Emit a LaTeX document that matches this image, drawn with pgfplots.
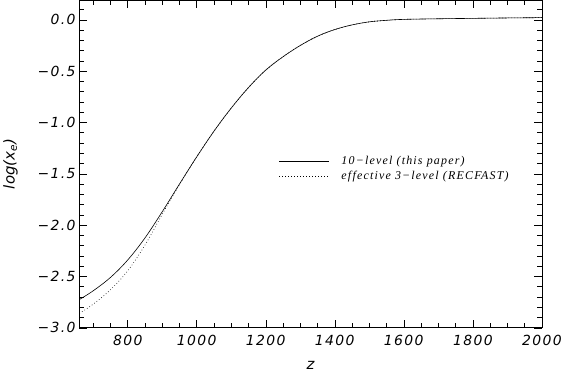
\documentclass[border=0pt]{standalone}
\usepackage{fontspec}
\setmainfont{DejaVu Sans}
\newfontfamily\tickfont[LetterSpace=10]{DejaVu Sans}
\newfontfamily\legfont[LetterSpace=10]{Liberation Serif}
\usepackage{pgfplots}
\pgfplotsset{compat=1.18}

% log of the ionisation fraction against redshift
\pgfplotstableread{
z     lx
660  -2.725
700  -2.640
750  -2.510
800  -2.340
850  -2.125
900  -1.870
950  -1.600
1000 -1.335
1050 -1.085
1100 -0.860
1150 -0.660
1200 -0.490
1250 -0.360
1300 -0.250
1350 -0.160
1400 -0.095
1450 -0.050
1500 -0.020
1550 -0.005
1600  0.004
1700  0.010
1800  0.014
1900  0.018
2000  0.021
}\tenlevel

\pgfplotstableread{
z     lx
660  -2.860
700  -2.770
750  -2.630
800  -2.445
850  -2.195
900  -1.895
950  -1.605
1000 -1.335
1050 -1.085
1100 -0.860
1150 -0.660
1200 -0.490
1250 -0.360
1300 -0.250
1350 -0.160
1400 -0.095
1450 -0.050
1500 -0.020
1550 -0.005
1600  0.004
1700  0.010
1800  0.014
1900  0.018
2000  0.021
}\recfast

\begin{document}
\begin{tikzpicture}
\begin{axis}[
  scale only axis,
  width=465pt,
  height=329pt,
  xmin=659, xmax=2000,
  ymin=-3.0, ymax=0.19,
  xtick={800,1000,...,2000},
  xticklabels={800,1000,1200,1400,1600,1800,2000},
  minor xtick={650,700,...,2000},
  ytick={-3,-2.5,...,0},
  yticklabels={−3.0,−2.5,−2.0,−1.5,−1.0,−0.5,0.0},
  minor ytick={-3,-2.9,...,0.15},
  major tick length=8pt,
  minor tick length=5pt,
  tick style={black, line width=0.5pt},
  axis line style={line width=0.6pt},
  tick label style={font=\tickfont\itshape\fontsize{14}{14}\selectfont},
  xticklabel style={yshift=-4pt},
  xlabel={z},
  ylabel={log(x\textsubscript{e})},
  label style={font=\itshape\fontsize{15}{15}\selectfont},
  xlabel style={at={(axis description cs:0.5,-0.116)}, anchor=center},
  ylabel style={at={(axis description cs:-0.148,0.5)}, anchor=center},
  legend style={at={(axis description cs:0.432,0.485)}, anchor=west,
    draw=none, fill=none, font=\legfont\itshape\fontsize{12}{12}\selectfont,
    row sep=1pt, inner sep=0pt},
  legend cell align=left,
  legend image code/.code={\draw[#1] (0pt,0pt) -- (50pt,0pt); \path (60pt,0pt);},
]
\addplot[black, line width=0.6pt, smooth, tension=0.6] table[x=z, y=lx] {\tenlevel};
\addlegendentry{10−level (this paper)}
\addplot[black, line width=0.6pt, smooth, tension=0.6, dash pattern=on 0.7pt off 2.3pt] table[x=z, y=lx] {\recfast};
\addlegendentry{effective 3−level (RECFAST)}
\end{axis}
\end{tikzpicture}
\end{document}
